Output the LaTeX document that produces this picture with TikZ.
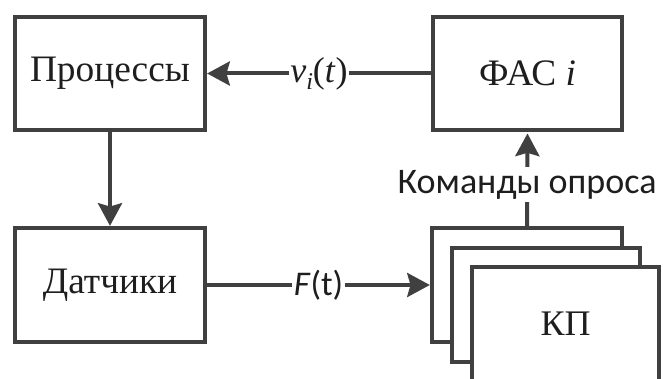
\documentclass[tikz,border=0pt]{standalone}
\usepackage{fontspec}
\setmainfont{Liberation Serif}
\newfontfamily\sansfnt{Carlito}
\usetikzlibrary{arrows.meta}
\definecolor{linegray}{HTML}{404040}
\definecolor{txtgray}{HTML}{1E1E1E}
\begin{document}
\begin{tikzpicture}[x=0.75pt,y=-0.75pt,
  boxstyle/.style={draw=linegray, line width=3.2pt, fill=white, inner sep=0pt,
    text=txtgray, font=\fontsize{28}{32}\selectfont},
  conn/.style={draw=linegray, line width=3pt,
    -{Stealth[length=17pt,width=18pt,inset=2.5pt]}},
  lbl/.style={fill=white, inner sep=1pt, text=txtgray}]
\useasboundingbox (0,0) rectangle (663,378);
\node[boxstyle, minimum width=142.5pt, minimum height=84.75pt] (pro) at (110,73.5) {Процессы};
\node[boxstyle, minimum width=141.75pt, minimum height=84.75pt] (fas) at (527.5,73.5) {ФАС \textit{i}};
\node[boxstyle, minimum width=142.5pt, minimum height=85.5pt] (dat) at (110,285) {Датчики};
\node[boxstyle, minimum width=142.5pt, minimum height=85.5pt] (kp1) at (527,285) {};
\node[boxstyle, minimum width=141pt, minimum height=85.5pt] (kp2) at (546,305) {};
\node[boxstyle, minimum width=140.25pt, minimum height=85.5pt, font=\fontsize{27}{32}\selectfont] (kp3) at (565.5,324) {КП};
\draw[conn] (fas.west) -- node[lbl, font=\fontsize{27}{30}\selectfont] (vlab) {\textit{v}\raisebox{-0.22em}{\fontsize{18}{18}\selectfont\textit{i}}(\textit{t})} (pro.west -| pro.east);
\draw[conn] (pro.south) -- (dat.north);
\draw[conn] (dat.east) -- node[lbl, font=\sansfnt\fontsize{26}{30}\selectfont] (flab) {\textit{F}(t)} (kp1.west);
\draw[conn, shorten >=1pt] (kp1.north) -- node[lbl, pos=0.44, font=\sansfnt\fontsize{27}{30}\selectfont, inner sep=2pt] (klab) {Команды опроса} (fas.south);
\end{tikzpicture}
\end{document}
